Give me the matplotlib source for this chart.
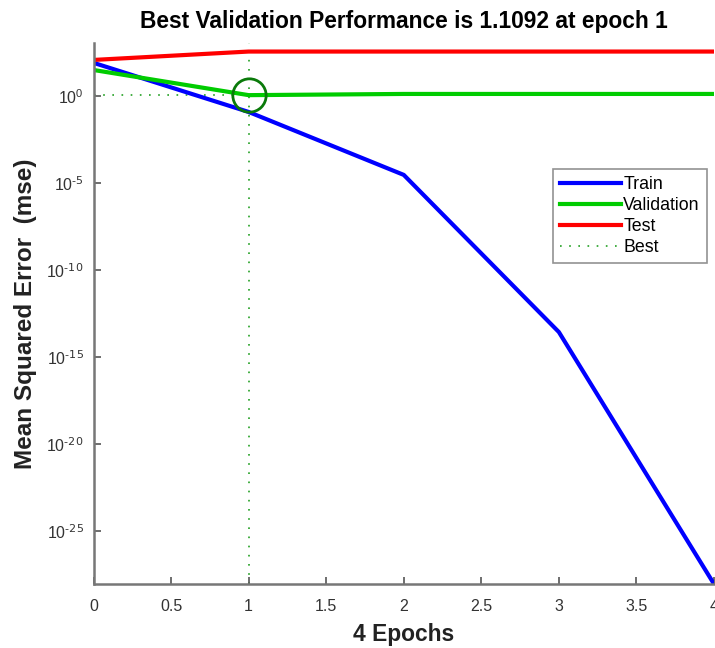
import numpy as np
import matplotlib
matplotlib.use('Agg')
import matplotlib.pyplot as plt
from matplotlib.ticker import FixedLocator, FixedFormatter

plt.rcParams['font.family'] = ['Liberation Sans', 'DejaVu Sans']
plt.rcParams['mathtext.default'] = 'regular'
plt.rcParams['axes.unicode_minus'] = False

# performance per epoch
epochs = [0, 1, 2, 3, 4]
train = [80.0, 0.12, 2.9e-5, 2.7e-14, 9e-29]
validation = [31.0, 1.1092, 1.3, 1.3, 1.3]
test = [117.0, 355.0, 355.0, 355.0, 355.0]
best_epoch = 1
best_perf = 1.1092

ytick_vals = [1e0, 1e-5, 1e-10, 1e-15, 1e-20, 1e-25]
ytick_labels = [r'$10^{0}$', r'$10^{\text{-5}}$', r'$10^{\text{-10}}$', r'$10^{\text{-15}}$',
                r'$10^{\text{-20}}$', r'$10^{\text{-25}}$']
xtick_vals = [0, 0.5, 1, 1.5, 2, 2.5, 3, 3.5, 4]
xtick_labels = ['0', '0.5', '1', '1.5', '2', '2.5', '3', '3.5', '4']

fig = plt.figure(figsize=(7.15, 6.48), dpi=100)
ax = fig.add_axes([93.5/715, 1 - 584/648, (714 - 93.5)/715, (584 - 43)/648])

ax.plot(epochs, train, color='#0000ff', lw=3, label='Train')
ax.plot(epochs, validation, color='#00cc00', lw=3, label='Validation')
ax.plot(epochs, test, color='#ff0000', lw=3, label='Test')
best_style = dict(color='#22a022', lw=1.2, linestyle=(0, (1, 4.5)))
ax.plot([0, 4], [best_perf, best_perf], label='Best', zorder=1, **best_style)
ax.axvline(best_epoch, zorder=1, **best_style)
ax.plot([best_epoch], [best_perf], 'o', ms=24, mfc='none', mec='#0a7a0a', mew=2)

ax.set_yscale('log')
ax.set_xlim(0, 4)
ax.set_ylim(min(train), 1.1e3)
ax.xaxis.set_major_locator(FixedLocator(xtick_vals))
ax.xaxis.set_major_formatter(FixedFormatter(xtick_labels))
ax.yaxis.set_major_locator(FixedLocator(ytick_vals))
ax.yaxis.set_major_formatter(FixedFormatter(ytick_labels))
ax.yaxis.set_minor_locator(FixedLocator([]))

for s in ['top', 'right']:
    ax.spines[s].set_visible(False)
for s in ['left', 'bottom']:
    ax.spines[s].set_color('#777777')
    ax.spines[s].set_linewidth(1.8)
ax.tick_params(direction='in', length=5, width=1.2, color='#555555',
               labelsize=11.5, labelcolor='#333333')
ax.tick_params(axis='x', pad=11)
ax.tick_params(axis='y', pad=7)

ax.set_title('Best Validation Performance is 1.1092 at epoch 1',
             fontsize=16.4, fontweight='bold', pad=11)
ax.set_xlabel('4 Epochs', fontsize=16.4, fontweight='bold', color='#222222', labelpad=6)
ax.set_ylabel('Mean Squared Error  (mse)', fontsize=17.5, fontweight='bold', color='#222222', labelpad=7)

leg = ax.legend(loc='upper left', bbox_to_anchor=(553/715, 1 - 169/648),
                bbox_transform=fig.transFigure, fontsize=12.8, frameon=True,
                fancybox=False, handlelength=3.4, handletextpad=0.15,
                labelspacing=0.22, borderpad=0.4, borderaxespad=0)
leg.get_frame().set_edgecolor('#777777')
leg.get_frame().set_linewidth(1.2)

fig.savefig('out.png', dpi=100)
